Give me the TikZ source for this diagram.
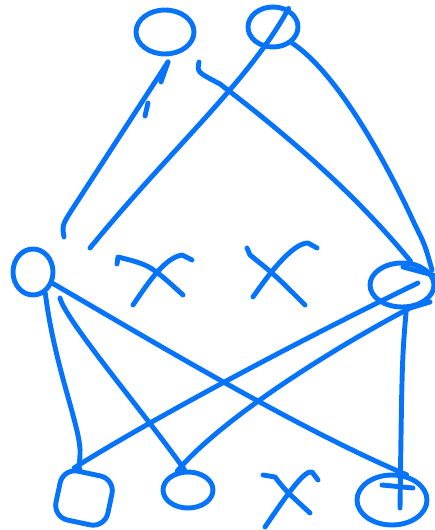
\documentclass[tikz,border=0pt]{standalone}
\usetikzlibrary{shapes.geometric}
\definecolor{pen}{RGB}{5,115,250}
\tikzset{
  stroke/.style={draw=pen, line width=2.8pt, line cap=round, line join=round},
  blob/.style={stroke, ellipse, inner sep=0pt},
  sqblob/.style={stroke, rectangle, rounded corners=0.3cm, inner sep=0pt},
  link/.style={stroke},
  cross/.style={stroke}
}
\begin{document}
\begin{tikzpicture}[x=0.02cm, y=-0.02cm]
\useasboundingbox (0,0) rectangle (435,530);
% nodes
\node[blob, minimum width=1.16cm, minimum height=0.88cm] (t1) at (165,32) {};
\node[blob, minimum width=1.0cm, minimum height=0.8cm] (t2) at (273,27) {};
\node[blob, minimum width=0.8cm, minimum height=0.92cm] (ml) at (33,272) {};
\node[blob, minimum width=1.28cm, minimum height=0.88cm] (mr) at (402,285) {};
\node[sqblob, minimum width=1.06cm, minimum height=1.0cm, rotate=-12] (b1) at (84,498) {};
\node[blob, minimum width=1.0cm, minimum height=0.72cm] (b2) at (188,490) {};
\node[blob, minimum width=1.4cm, minimum height=1.0cm] (b3) at (392,500) {};
% free ends
\coordinate (c1s) at (64,237);
\coordinate (c1e) at (168,62);
\coordinate (c2s) at (90,248);
\coordinate (c3s) at (199,62);
\coordinate (c4e) at (432,270);
% upper connectors
\draw[link] (c1s) .. controls (62,225) .. (75,205) -- (c1e);
\draw[link] (c1e) -- (161,82);
\draw[link] (148,103) -- (145,116);
\draw[link] (c2s) .. controls (170,150) and (250,80) .. (t2.50);
\draw[link] (c3s) .. controls (197,72) .. (220,84) .. controls (300,145) and (360,200) .. (mr.70);
\draw[link] (t2.-40) .. controls (340,75) and (390,170) .. (415,225) .. controls (425,245) .. (c4e);
\draw[link] (403,267) -- (433,275);
% lower connectors
\draw[link] (ml.-60) .. controls (55,370) and (82,430) .. (80,455) .. controls (79,470) .. (b1.110);
\draw[link] (60,298) .. controls (65,320) and (150,420) .. (b2.100);
\draw[link] (ml.-30) .. controls (150,340) and (300,430) .. (b3.60);
\draw[link] (418,283) .. controls (300,340) and (150,420) .. (b1.120);
\draw[link] (430,302) -- (410,308) .. controls (330,350) and (220,420) .. (b2.120);
\draw[link] (mr.-80) .. controls (402,360) .. (400,508);
\draw[link] (382,485) -- (413,488);
% crosses
\draw[cross] (117,264) -- (118,257) .. controls (150,265) .. (183,295);
\draw[cross] (133,305) .. controls (150,280) and (165,258) .. (182,255) -- (192,260);
\draw[cross] (247,248) -- (250,255) .. controls (275,275) .. (305,305);
\draw[cross] (253,297) .. controls (275,265) and (295,243) .. (308,243) -- (317,248);
\draw[cross] (263,475) -- (275,477) .. controls (285,490) .. (310,513);
\draw[cross] (265,527) .. controls (290,490) and (305,470) .. (312,472) -- (318,480);
\end{tikzpicture}
\end{document}
